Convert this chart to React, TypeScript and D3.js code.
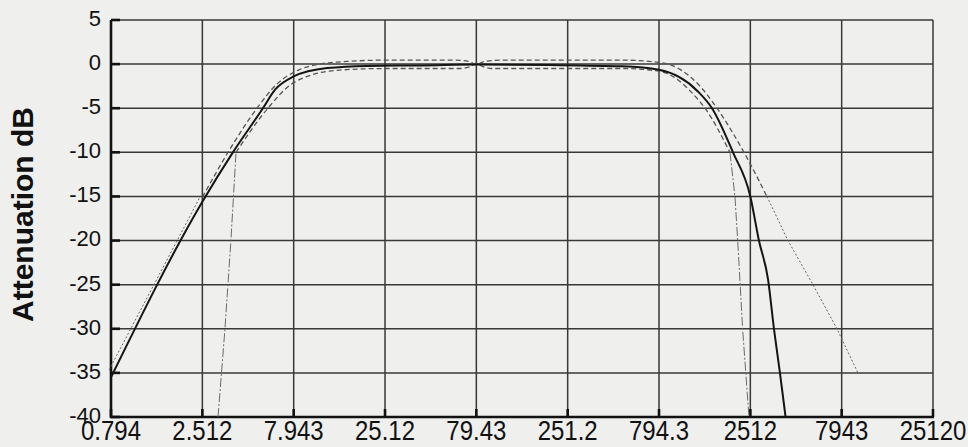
import React from "react";
import * as d3 from "d3";

const WIDTH = 968;
const HEIGHT = 447;
const MARGIN = { top: 20, right: 35, bottom: 30, left: 111 };

// frequency ticks (log scale, half-decade steps)
const xTicks = [0.794, 2.512, 7.943, 25.12, 79.43, 251.2, 794.3, 2512, 7943, 25120];
const xTickLabels = ["0.794", "2.512", "7.943", "25.12", "79.43", "251.2", "794.3", "2512", "7943", "25120"];
const yTicks = [5, 0, -5, -10, -15, -20, -25, -30, -35, -40];

// [frequency, dB]
const mainCurve: [number, number][] = [
  [0.794, -35.5], [2.512, -15.6], [3.69, -10], [5.39, -5], [6.28, -2.9],
  [7.943, -1.4], [12.1, -0.45], [20, -0.2], [40, -0.15], [79.43, -0.05],
  [200, -0.1], [500, -0.25], [794.3, -0.65], [1297, -3.1], [1549, -5],
  [2018, -10], [2512, -15], [2799, -20], [3140, -24.4], [3383, -30],
  [3648, -35], [3917, -40],
];

const upperBand: [number, number][] = [
  [2.512, -15.1], [3.47, -10], [5.0, -5], [6.4, -2.3], [8.6, -0.6],
  [11, 0], [15.6, 0.3], [25, 0.45], [60, 0.45], [72, 0.3], [79.43, 0],
  [88, 0.3], [110, 0.45], [500, 0.45], [794.3, 0.2], [1035, -0.6],
  [1331, -2.5], [1649, -5], [2318, -10], [3097, -15],
];
const upperLeftTail: [number, number][] = [[0.794, -34.8], [2.512, -15.1]];
const upperRightTail: [number, number][] = [
  [3097, -15], [4036, -20], [5533, -25], [7485, -30], [9752, -35],
];

const lowerBand: [number, number][] = [
  [3.84, -10], [5.74, -5], [7.943, -2.1], [13.7, -0.7], [25, -0.5],
  [65, -0.5], [72, -0.35], [79.43, 0], [88, -0.35], [96, -0.5],
  [500, -0.5], [794.3, -0.8], [1297, -4], [1418, -5], [1943, -10],
];
const lowerLeftStop: [number, number][] = [
  [3.06, -40], [3.34, -30], [3.6, -20], [3.84, -10],
];
const lowerRightStop: [number, number][] = [
  [1943, -10], [2069, -15], [2142, -20], [2279, -30], [2469, -40],
];

export default function App() {
  const x = d3.scaleLog().domain([0.794, 25120]).range([MARGIN.left, WIDTH - MARGIN.right]);
  const y = d3.scaleLinear().domain([-40, 5]).range([HEIGHT - MARGIN.bottom, MARGIN.top]);

  const smooth = d3
    .line<[number, number]>()
    .x((d) => x(d[0]))
    .y((d) => y(d[1]))
    .curve(d3.curveMonotoneX);
  const straight = d3
    .line<[number, number]>()
    .x((d) => x(d[0]))
    .y((d) => y(d[1]));

  const x0 = MARGIN.left;
  const x1 = WIDTH - MARGIN.right;
  const y0 = HEIGHT - MARGIN.bottom;
  const y1 = MARGIN.top;

  return (
    <svg
      width={WIDTH}
      height={HEIGHT}
      style={{ position: "absolute", left: 0, top: 0, background: "#efefed" }}
      fontFamily="'Liberation Sans', Arial, sans-serif"
    >
      <rect x={0} y={0} width={WIDTH} height={HEIGHT} fill="#efefed" />

      {/* grid */}
      {yTicks.map((t) => (
        <line key={"gy" + t} x1={x0} x2={x1} y1={y(t)} y2={y(t)} stroke="#383838" strokeWidth={1.5} />
      ))}
      {xTicks.map((t) => (
        <line key={"gx" + t} x1={x(t)} x2={x(t)} y1={y1} y2={y0} stroke="#383838" strokeWidth={1.5} />
      ))}

      {/* inner ticks */}
      {yTicks.map((t) => (
        <line key={"ty" + t} x1={x0} x2={x0 + 9} y1={y(t)} y2={y(t)} stroke="#111" strokeWidth={2.6} />
      ))}
      {xTicks.map((t) => (
        <line key={"tx" + t} x1={x(t)} x2={x(t)} y1={y0} y2={y0 - 8} stroke="#111" strokeWidth={2.6} />
      ))}

      {/* axes */}
      <line x1={x0} x2={x0} y1={y1} y2={y0 + 1} stroke="#111" strokeWidth={2.6} />
      <line x1={x0 - 1} x2={x1 + 1} y1={y0} y2={y0} stroke="#111" strokeWidth={2.6} />

      {/* curves */}
      <path d={straight(lowerLeftStop) || ""} fill="none" stroke="#6a6a6a" strokeWidth={1} strokeDasharray="9,2,2,2" />
      <path d={straight(lowerRightStop) || ""} fill="none" stroke="#6a6a6a" strokeWidth={1} strokeDasharray="9,2,2,2" />
      <path d={straight(upperLeftTail) || ""} fill="none" stroke="#666" strokeWidth={1} strokeDasharray="2,2" transform="translate(-2,-1)" />
      <path d={straight(upperRightTail) || ""} fill="none" stroke="#666" strokeWidth={1} strokeDasharray="2,2" />
      <path d={smooth(upperBand) || ""} fill="none" stroke="#555" strokeWidth={1.3} strokeDasharray="5,3" />
      <path d={smooth(lowerBand) || ""} fill="none" stroke="#555" strokeWidth={1.3} strokeDasharray="5,3" />
      <path d={smooth(mainCurve) || ""} fill="none" stroke="#151515" strokeWidth={2} />

      {/* tick labels */}
      {yTicks.map((t) => (
        <text key={"ly" + t} x={101} y={y(t)} dy="0.27em" textAnchor="end" fontSize={22} fill="#111">
          {t}
        </text>
      ))}
      {xTicks.map((t, i) => (
        <text
          key={"lx" + t}
          transform={`translate(${x(t)},440) scale(1,1.12)`}
          textAnchor="middle"
          fontSize={24}
          fill="#111"
        >
          {xTickLabels[i]}
        </text>
      ))}

      <text
        transform="translate(33,214.5) rotate(-90)"
        textAnchor="middle"
        fontSize={30}
        fontWeight="bold"
        fill="#111"
      >
        Attenuation dB
      </text>
    </svg>
  );
}
